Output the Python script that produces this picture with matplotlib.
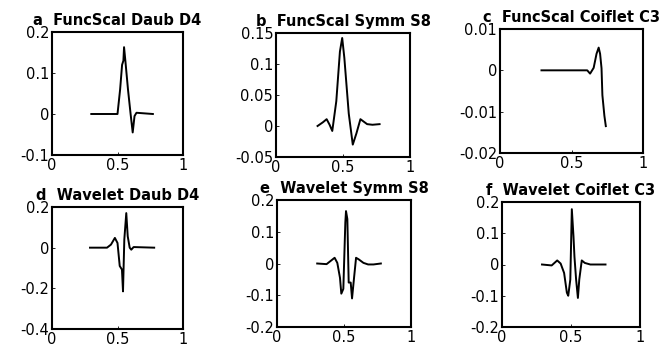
import matplotlib
matplotlib.use('Agg')
import matplotlib.pyplot as plt

# scaling functions (top row) and wavelets (bottom row), read as (x, y) samples
daub_phi_x = [0.30, 0.50, 0.52, 0.535, 0.545, 0.55, 0.56, 0.58, 0.60, 0.616, 0.63, 0.645, 0.77]
daub_phi_y = [0.0, 0.0, 0.06, 0.12, 0.13, 0.163, 0.13, 0.06, 0.0, -0.045, -0.005, 0.003, 0.0]

symm_phi_x = [0.31, 0.35, 0.378, 0.40, 0.42, 0.45, 0.477, 0.494, 0.51, 0.543, 0.573, 0.60, 0.63, 0.68, 0.72, 0.773]
symm_phi_y = [0.0, 0.006, 0.011, 0.002, -0.008, 0.04, 0.12, 0.142, 0.11, 0.02, -0.03, -0.012, 0.011, 0.003, 0.002, 0.003]

coif_phi_x = [0.29, 0.61, 0.63, 0.655, 0.675, 0.69, 0.70, 0.71, 0.716, 0.73, 0.74]
coif_phi_y = [0.0, 0.0, -0.0008, 0.0006, 0.004, 0.0055, 0.004, 0.0005, -0.006, -0.011, -0.0135]

daub_psi_x = [0.29, 0.42, 0.45, 0.48, 0.50, 0.517, 0.534, 0.542, 0.552, 0.567, 0.578, 0.593, 0.605, 0.623, 0.78]
daub_psi_y = [0.0, 0.0, 0.015, 0.048, 0.023, -0.09, -0.108, -0.215, 0.04, 0.17, 0.056, 0.0, -0.01, 0.003, 0.0]

symm_psi_x = [0.30, 0.37, 0.43, 0.45, 0.47, 0.48, 0.495, 0.51, 0.515, 0.525, 0.535, 0.55, 0.56, 0.575, 0.59, 0.61, 0.645, 0.68, 0.72, 0.775]
symm_psi_y = [0.0, -0.002, 0.018, 0.002, -0.045, -0.095, -0.08, 0.13, 0.165, 0.14, -0.06, -0.06, -0.11, -0.045, 0.018, 0.013, 0.002, -0.003, -0.003, 0.0]

coif_psi_x = [0.29, 0.36, 0.40, 0.425, 0.45, 0.47, 0.48, 0.495, 0.506, 0.518, 0.525, 0.537, 0.55, 0.56, 0.578, 0.60, 0.64, 0.75]
coif_psi_y = [0.0, -0.003, 0.013, 0.003, -0.027, -0.09, -0.10, -0.048, 0.177, 0.09, 0.025, -0.048, -0.107, -0.048, 0.013, 0.005, 0.0, 0.0]

titles = ['a  FuncScal Daub D4', 'b  FuncScal Symm S8', 'c  FuncScal Coiflet C3',
          'd  Wavelet Daub D4', 'e  Wavelet Symm S8', 'f  Wavelet Coiflet C3']
yticks = [[-0.1, 0, 0.1, 0.2],
          [-0.05, 0, 0.05, 0.1, 0.15],
          [-0.02, -0.01, 0, 0.01],
          [-0.4, -0.2, 0, 0.2],
          [-0.2, -0.1, 0, 0.1, 0.2],
          [-0.2, -0.1, 0, 0.1, 0.2]]
xticks = [0, 0.5, 1]
curves = [(daub_phi_x, daub_phi_y), (symm_phi_x, symm_phi_y), (coif_phi_x, coif_phi_y),
          (daub_psi_x, daub_psi_y), (symm_psi_x, symm_psi_y), (coif_psi_x, coif_psi_y)]

# axes boxes in pixels: left, right, top, bottom
W, H = 661, 351
boxes = [(52, 183, 32, 155), (276, 410, 33, 157), (500, 643, 29, 153),
         (52, 183, 207, 329), (277, 411, 200, 327), (502, 640, 202, 327)]

plt.rcParams['font.family'] = 'DejaVu Sans'
plt.rcParams['font.size'] = 10

fig = plt.figure(figsize=(W / 100, H / 100), dpi=100)

for (l, r, t, b), title, yt, (x, y) in zip(boxes, titles, yticks, curves):
    ax = fig.add_axes([l / W, 1 - b / H, (r - l) / W, (b - t) / H])
    ax.plot(x, y, color='black', lw=1.4)
    ax.set_xlim(0, 1)
    ax.set_ylim(yt[0], yt[-1])
    ax.set_xticks(xticks)
    ax.set_xticklabels(['0', '0.5', '1'])
    ax.set_yticks(yt)
    ax.set_yticklabels([('%g' % v) for v in yt])
    ax.tick_params(direction='in', length=2, width=0.6, pad=2, labelsize=10.5)
    for s in ax.spines.values():
        s.set_linewidth(1.5)
    ax.set_title(title, fontsize=10.5, fontweight='bold', pad=5)

fig.savefig('out.png', dpi=100)
